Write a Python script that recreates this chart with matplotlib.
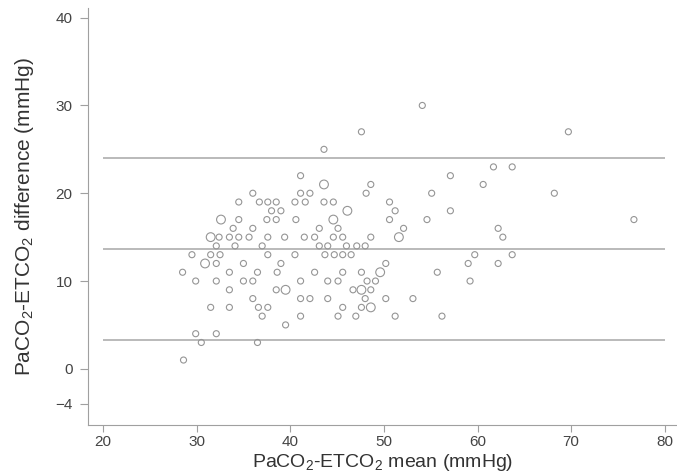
import matplotlib
matplotlib.use("Agg")
import matplotlib.pyplot as plt
import numpy as np

plt.rcParams['font.family'] = ['Liberation Sans', 'DejaVu Sans']
plt.rcParams['mathtext.fontset'] = 'custom'
plt.rcParams['mathtext.rm'] = 'Liberation Sans'

# Bland-Altman data: (mean, difference) read row by row
rows = {
    30: [54.1],
    27: [47.6, 69.7],
    25: [43.6],
    23: [61.7, 63.7],
    22: [41.1, 57.1],
    21: [43.6, 48.6, 60.6],
    20: [36.0, 41.1, 42.1, 48.1, 55.1, 68.2],
    19: [34.5, 36.7, 37.6, 38.5, 40.5, 41.6, 43.6, 44.6, 50.6],
    18: [38.0, 39.0, 46.1, 51.2, 57.1],
    17: [32.6, 34.5, 37.5, 38.5, 40.6, 44.6, 50.6, 54.6, 76.7],
    16: [33.9, 36.0, 43.1, 45.1, 52.1, 62.2],
    15: [31.5, 32.4, 33.5, 34.5, 35.6, 37.6, 39.4, 41.5, 42.6, 44.6, 45.6, 48.6, 51.6, 62.7],
    14: [32.1, 34.1, 37.0, 43.1, 44.0, 46.0, 47.1, 48.0],
    13: [29.5, 31.5, 32.5, 37.6, 40.5, 43.7, 44.7, 45.6, 46.5, 59.7, 63.7],
    12: [30.9, 32.1, 35.0, 39.0, 50.2, 59.0, 62.2],
    11: [28.5, 33.5, 36.5, 38.6, 42.6, 45.6, 47.6, 49.6, 55.7],
    10: [29.9, 32.1, 35.0, 36.0, 41.1, 44.0, 45.1, 48.2, 49.1, 59.2],
    9: [33.5, 38.5, 39.5, 46.7, 47.6, 48.6],
    8: [36.0, 41.1, 42.1, 44.0, 48.0, 50.2, 53.1],
    7: [31.5, 33.5, 36.6, 37.6, 45.6, 47.6, 48.6],
    6: [37.0, 41.1, 45.1, 47.0, 51.2, 56.2],
    5: [39.5],
    4: [29.9, 32.1],
    3: [30.5, 36.5],
    1: [28.6],
}
# points that appear with larger (weighted) markers
big_points = [(32.6, 17), (31.5, 15), (30.9, 12), (43.6, 21), (46.1, 18),
              (44.6, 17), (51.6, 15), (49.6, 11), (39.5, 9), (47.6, 9), (48.6, 7)]

mean_vals = []
diff_vals = []
for d, xs in rows.items():
    for x in xs:
        mean_vals.append(x)
        diff_vals.append(d)
mean_vals = np.array(mean_vals)
diff_vals = np.array(diff_vals, dtype=float)

limits = [24.0, 13.7, 3.3]   # upper LoA, mean bias, lower LoA
line_x = [20, 80]

xticks = [20, 30, 40, 50, 60, 70, 80]
yticks = [-4, 0, 10, 20, 30, 40]

sizes = np.full(len(mean_vals), 19.0)
for i, (x, y) in enumerate(zip(mean_vals, diff_vals)):
    if (x, y) in big_points:
        sizes[i] = 40.0

fig = plt.figure(figsize=(6.77, 4.73), dpi=100)
ax = fig.add_axes([88/677, 48/473, 589/677, 417/473])

ax.hlines(limits, line_x[0], line_x[1], colors='#b4b4b4', linewidth=1.3, zorder=1)
ax.scatter(mean_vals, diff_vals, s=sizes, facecolors='none', edgecolors='#959595',
           linewidths=0.8, zorder=2)

ax.set_xlim(18.4, 81.3)
ax.set_ylim(-6.4, 41.1)
ax.set_xticks(xticks)
ax.set_yticks(yticks)
ax.tick_params(axis='x', direction='out', length=5, width=0.8, color='#a0a0a0',
               labelsize=11, labelcolor='#444444', pad=2)
ax.tick_params(axis='y', direction='out', length=6, width=0.8, color='#a0a0a0',
               labelsize=11, labelcolor='#444444', pad=5)
for s in ['top', 'right']:
    ax.spines[s].set_visible(False)
for s in ['left', 'bottom']:
    ax.spines[s].set_color('#a0a0a0')
    ax.spines[s].set_linewidth(0.8)

ax.set_xlabel(r'PaCO$_\mathregular{2}$-ETCO$_\mathregular{2}$ mean (mmHg)', fontsize=14,
              color='#333333', labelpad=2)
ax.set_ylabel(r'PaCO$_\mathregular{2}$-ETCO$_\mathregular{2}$ difference (mmHg)', fontsize=15,
              color='#333333', labelpad=14)

fig.savefig('out.png', dpi=100)
